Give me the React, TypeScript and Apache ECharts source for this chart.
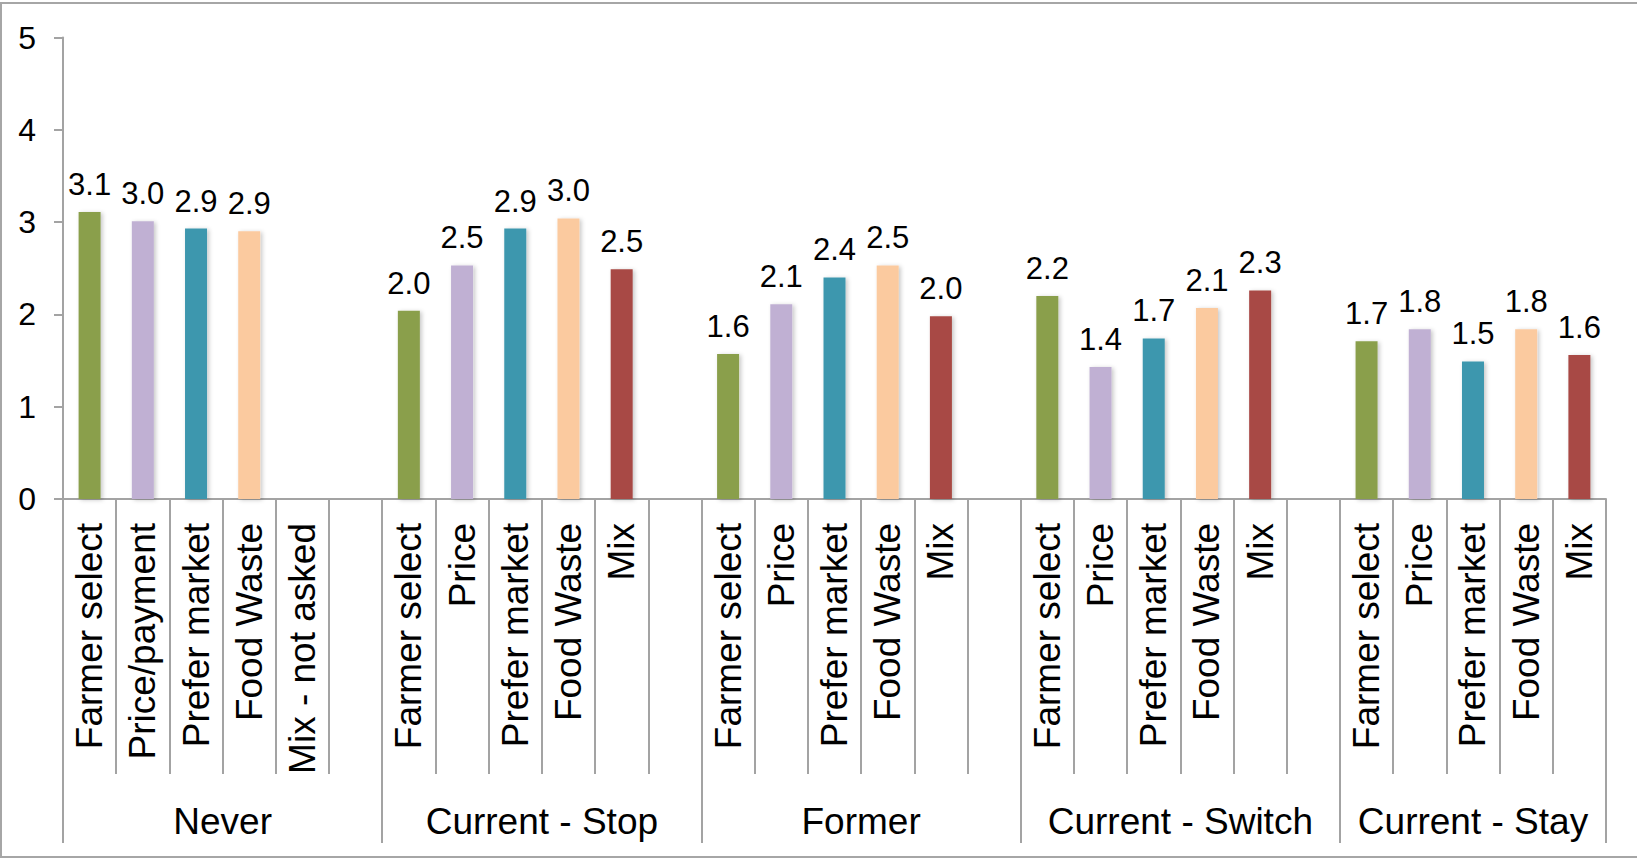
import React, { useEffect, useRef } from "react";
import * as echarts from "echarts";

// Respondent groups along the bottom
const groups = ["Never", "Current - Stop", "Former", "Current - Switch", "Current - Stay"];

// Reason labels under each bar, per group
const neverReasons = ["Farmer select", "Price/payment", "Prefer market", "Food Waste", "Mix - not asked"];
const otherReasons = ["Farmer select", "Price", "Prefer market", "Food Waste", "Mix"];

// Mean ratings (null = not asked)
const neverValues = [3.11, 3.01, 2.93, 2.9, null];
const stopValues = [2.04, 2.53, 2.93, 3.04, 2.49];
const formerValues = [1.57, 2.11, 2.4, 2.53, 1.98];
const switchValues = [2.2, 1.43, 1.74, 2.07, 2.26];
const stayValues = [1.71, 1.84, 1.49, 1.84, 1.56];

// Y axis ticks
const yTicks = [0, 1, 2, 3, 4, 5];

const reasonColors = ["#8A9F4B", "#C0B0D3", "#3D97AE", "#FBCA9F", "#A84A45"];
const FONT = "'Liberation Sans', Arial, Helvetica, sans-serif";
const AXIS_GREY = "#A3A3A3";

export default function App() {
  const ref = useRef<HTMLDivElement>(null);

  useEffect(() => {
    if (!ref.current) return;
    const chart = echarts.init(ref.current, null, { renderer: "svg" });

    const groupReasons = [neverReasons, otherReasons, otherReasons, otherReasons, otherReasons];
    const groupValues = [neverValues, stopValues, formerValues, switchValues, stayValues];

    // Flatten into slots: five reasons per group plus one spacer slot between groups
    const categories: string[] = [];
    const barData: any[] = [];
    const boundaries: number[] = [0];
    const centers: number[] = [];
    groups.forEach((g, gi) => {
      const start = categories.length;
      groupReasons[gi].forEach((r, ri) => {
        categories.push(r);
        const v = groupValues[gi][ri];
        barData.push(
          v == null ? null : { value: v, itemStyle: { color: reasonColors[ri] } }
        );
      });
      if (gi < groups.length - 1) {
        categories.push("");
        barData.push(null);
      }
      const end = categories.length;
      boundaries.push(end);
      centers.push((start + end) / 2);
    });

    chart.setOption({
      animation: false,
      backgroundColor: "#ffffff",
      textStyle: { fontFamily: FONT },
      graphic: [
        {
          type: "rect",
          shape: { x: 1, y: 3, width: 1660, height: 854 },
          style: { fill: "none", stroke: "#A6A6A6", lineWidth: 2 },
          silent: true,
        },
      ],
      grid: { left: 63, right: 31, top: 37.5, bottom: 359, containLabel: false },
      xAxis: [
        {
          type: "category",
          data: categories,
          boundaryGap: true,
          axisLine: { show: true, lineStyle: { color: AXIS_GREY, width: 2 } },
          axisTick: {
            show: true,
            interval: 0,
            length: 275,
            lineStyle: { color: AXIS_GREY, width: 2 },
          },
          axisLabel: {
            interval: 0,
            rotate: 90,
            margin: 24,
            fontSize: 37,
            color: "#000",
            fontFamily: FONT,
          },
          splitLine: { show: false },
        },
        {
          type: "value",
          position: "bottom",
          offset: 275,
          min: 0,
          max: categories.length,
          axisLine: { show: false },
          axisTick: {
            show: true,
            customValues: boundaries,
            length: 69,
            lineStyle: { color: AXIS_GREY, width: 2 },
          },
          axisLabel: {
            customValues: centers,
            margin: 29,
            fontSize: 37,
            color: "#000",
            fontFamily: FONT,
            formatter: (v: number) => {
              const i = centers.findIndex((c) => Math.abs(c - v) < 1e-6);
              return i >= 0 ? groups[i] : "";
            },
          },
          splitLine: { show: false },
        },
      ],
      yAxis: {
        type: "value",
        min: yTicks[0],
        max: yTicks[yTicks.length - 1],
        interval: 1,
        axisLine: { show: true, lineStyle: { color: AXIS_GREY, width: 2 } },
        axisTick: { show: true, length: 9, lineStyle: { color: AXIS_GREY, width: 2 } },
        axisLabel: { margin: 27, fontSize: 32, color: "#000", fontFamily: FONT },
        splitLine: { show: false },
      },
      series: [
        {
          type: "bar",
          xAxisIndex: 0,
          data: barData,
          barWidth: 22,
          itemStyle: {
            shadowBlur: 4,
            shadowColor: "rgba(0,0,0,0.22)",
            shadowOffsetX: 2,
            shadowOffsetY: 1,
          },
          label: {
            show: true,
            position: "top",
            distance: 12,
            fontSize: 31,
            color: "#000",
            fontFamily: FONT,
            formatter: (p: any) =>
              p.value == null ? "" : Number(p.value).toFixed(1),
          },
        },
      ],
    });

    return () => chart.dispose();
  }, []);

  return (
    <div
      ref={ref}
      style={{
        position: "fixed",
        left: 0,
        top: 0,
        width: 1637,
        height: 858,
        background: "#fff",
      }}
    />
  );
}
